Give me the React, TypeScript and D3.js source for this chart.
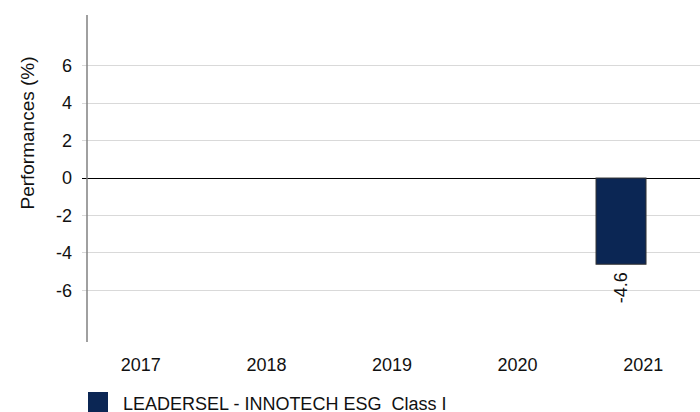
import React from "react";
import * as d3 from "d3";

const years = ["2017", "2018", "2019", "2020", "2021"];
const fundValues: (number | null)[] = [null, null, null, null, -4.6];
const seriesKeys = ["fund", "benchmark"];
const yTicks = [-6, -4, -2, 0, 2, 4, 6];
const seriesName = "LEADERSEL - INNOTECH ESG  Class I";
const yTitle = "Performances (%)";

const W = 700;
const H = 412;
const FONT = "'Liberation Sans', Arial, sans-serif";

export default function App() {
  const axisX = 87;
  const y = d3.scaleLinear().domain([-8.75, 8.7]).range([342, 15]);
  const x = d3.scaleBand<string>().domain(years).range([78, 706]).padding(0);
  const inner = d3
    .scaleBand<string>()
    .domain(seriesKeys)
    .range([0, x.bandwidth()])
    .paddingInner(0)
    .paddingOuter(0.256)
    .align(0.61);

  return (
    <svg
      width={W}
      height={H}
      style={{ position: "absolute", left: 0, top: 0, background: "#fff" }}
      fontFamily={FONT}
    >
      {yTicks.map((t) => (
        <line
          key={"g" + t}
          x1={axisX - 5}
          x2={W}
          y1={y(t)}
          y2={y(t)}
          stroke={t === 0 ? "#000" : "#d9d9d9"}
          strokeWidth={1}
          shapeRendering="crispEdges"
        />
      ))}
      {yTicks.map((t) => (
        <text
          key={"t" + t}
          x={72}
          y={y(t)}
          dy="0.35em"
          textAnchor="end"
          fontSize={18}
          fill="#111"
        >
          {t}
        </text>
      ))}
      <text
        transform={`translate(${34},${133}) rotate(-90)`}
        textAnchor="middle"
        fontSize={19}
        fill="#111"
      >
        {yTitle}
      </text>
      {years.map((yr, i) => {
        const v = fundValues[i];
        if (v == null) return null;
        const bx = (x(yr) ?? 0) + (inner("fund") ?? 0);
        const top = y(Math.max(0, v));
        const bot = y(Math.min(0, v));
        return (
          <g key={"b" + yr}>
            <rect
              x={bx}
              y={top}
              width={inner.bandwidth()}
              height={bot - top}
              fill="#0b2654"
              stroke="#333"
              strokeWidth={1}
            />
            <text
              transform={`translate(${bx + inner.bandwidth() / 2},${bot + 8}) rotate(-90)`}
              textAnchor="end"
              dy="0.35em"
              fontSize={18}
              fill="#111"
            >
              {v.toFixed(1)}
            </text>
          </g>
        );
      })}
      <line
        x1={axisX}
        x2={axisX}
        y1={y(8.7)}
        y2={y(-8.75)}
        stroke="#808080"
        strokeWidth={1.5}
      />
      {years.map((yr) => (
        <text
          key={"c" + yr}
          x={(x(yr) ?? 0) + x.bandwidth() / 2}
          y={371}
          textAnchor="middle"
          fontSize={18}
          fill="#111"
        >
          {yr}
        </text>
      ))}
      <rect x={88} y={392} width={20} height={20} fill="#0b2654" />
      <text x={123} y={410} fontSize={18} fill="#111" style={{ whiteSpace: "pre" }}>
        {seriesName}
      </text>
    </svg>
  );
}
